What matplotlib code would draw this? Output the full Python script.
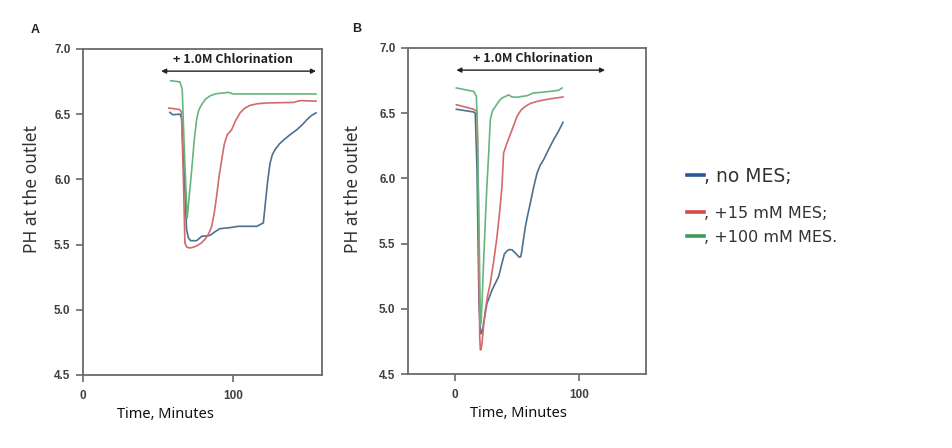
import matplotlib
matplotlib.use("Agg")
import matplotlib.pyplot as plt
from matplotlib.lines import Line2D

# ---------------- Data ----------------
# Panel A
a_blue_x = [57.8, 59.6, 64.5, 65.6, 67.5, 68.9, 70.2, 71.6, 75.6, 78.9, 84.5, 88.0, 91.1, 97.8, 103.3, 115.6, 120.0,
            121.8, 123.0, 124.5, 126.0, 127.8, 130.5, 133.3, 137.5, 142.2, 146.0, 149.0, 152.0, 155.0]
a_blue_y = [6.514, 6.496, 6.50, 6.47, 6.00, 5.614, 5.55, 5.53, 5.53, 5.563, 5.57, 5.60, 5.622, 5.63, 5.64, 5.64, 5.666,
            5.87, 6.00, 6.126, 6.19, 6.228, 6.27, 6.30, 6.34, 6.38, 6.42, 6.458, 6.49, 6.51]

a_red_x = [57.1, 64.5, 65.5, 66.8, 67.8, 69.0, 71.1, 73.5, 75.6, 78.5, 81.1, 83.5, 85.6, 87.3, 88.9, 90.5, 92.3, 94.0,
           96.0, 98.9, 101.5, 104.5, 107.5, 111.0, 116.0, 122.3, 140.0, 144.5, 155.0]
a_red_y = [6.547, 6.535, 6.515, 6.00, 5.512, 5.48, 5.474, 5.48, 5.49, 5.51, 5.54, 5.58, 5.64, 5.74, 5.87, 6.02, 6.15, 6.27,
           6.343, 6.38, 6.45, 6.51, 6.545, 6.567, 6.58, 6.586, 6.59, 6.604, 6.60]

a_green_x = [58.3, 64.5, 66.0, 67.5, 69.3, 70.5, 72.3, 74.0, 75.6, 77.0, 78.9, 81.5, 84.5, 88.0, 91.1, 96.7, 100.0, 155.0]
a_green_y = [6.757, 6.747, 6.69, 6.20, 5.70, 5.85, 6.07, 6.30, 6.46, 6.53, 6.573, 6.615, 6.64, 6.655, 6.66, 6.667, 6.655, 6.655]

# Panel B
b_blue_x = [1.4, 15.3, 16.6, 18.0, 19.6, 20.5, 21.2, 22.2, 23.3, 26.0, 30.1, 35.4, 38.1, 40.0, 42.1, 44.0, 46.2, 48.9,
            52.0, 53.2, 54.2, 55.5, 56.9, 58.8, 60.9, 63.5, 66.3, 68.8, 71.6, 75.5, 79.6, 83.5, 87.2]
b_blue_y = [6.53, 6.509, 6.50, 6.066, 5.04, 4.86, 4.81, 4.83, 4.89, 5.04, 5.145, 5.247, 5.35, 5.42, 5.444, 5.455, 5.452, 5.427,
            5.396, 5.40, 5.452, 5.54, 5.63, 5.72, 5.81, 5.93, 6.04, 6.10, 6.143, 6.22, 6.296, 6.36, 6.43]

b_red_x = [1.4, 15.3, 18.0, 19.0, 19.6, 20.2, 20.7, 21.3, 22.0, 23.2, 24.7, 26.5, 28.7, 31.5, 34.1, 36.3, 38.1, 39.4,
           42.1, 46.2, 50.2, 53.5, 56.9, 61.0, 66.3, 71.0, 77.0, 87.2]
b_red_y = [6.565, 6.53, 6.513, 5.90, 5.30, 4.78, 4.685, 4.69, 4.735, 4.86, 4.99, 5.10, 5.196, 5.37, 5.554, 5.75, 5.938, 6.194,
           6.27, 6.373, 6.475, 6.525, 6.552, 6.575, 6.59, 6.60, 6.61, 6.624]

b_green_x = [1.4, 15.3, 17.5, 18.5, 19.3, 20.1, 20.7, 21.3, 22.0, 23.3, 24.7, 26.0, 27.4, 28.7, 30.5, 32.7, 35.5, 38.1,
             43.4, 46.2, 50.0, 58.2, 63.6, 70.0, 77.0, 83.7, 86.4]
b_green_y = [6.693, 6.667, 6.63, 6.32, 5.80, 5.30, 4.88, 4.90, 5.04, 5.36, 5.68, 5.95, 6.19, 6.45, 6.52, 6.55, 6.59, 6.616,
             6.64, 6.624, 6.622, 6.634, 6.655, 6.66, 6.667, 6.675, 6.693]

yticks = [4.5, 5.0, 5.5, 6.0, 6.5, 7.0]
ytick_labels = ["4.5", "5.0", "5.5", "6.0", "6.5", "7.0"]
xticks = [0, 100]
xtick_labels = ["0", "100"]

legend_labels = [", no MES;", ", +15 mM MES;", ", +100 mM MES."]

# ---------------- Styling ----------------
C_BLUE = "#4d7090"
C_RED = "#d36a6a"
C_GREEN = "#66b57e"
LEG_COLORS = ["#2a55a0", "#d84848", "#3f9a58"]
SPINE = "#6a6a6a"

fig = plt.figure(figsize=(9.52, 4.48), dpi=100)

def style_axis(ax, xlim, xlab_x, ylab_x, ylab_y):
    ax.set_xlim(*xlim)
    ax.set_ylim(4.5, 7.0)
    ax.set_yticks(yticks)
    ax.set_yticklabels(ytick_labels, fontsize=8.5, fontweight="bold",
                       color="#404040", family="Liberation Sans")
    ax.set_xticks(xticks)
    ax.set_xticklabels(xtick_labels, fontsize=8.5, fontweight="bold",
                       color="#404040", family="Liberation Sans")
    for s in ax.spines.values():
        s.set_color(SPINE)
        s.set_linewidth(1.3)
    ax.tick_params(direction="out", length=5, width=1.2, color=SPINE, pad=4)
    ax.tick_params(axis="x", pad=6)
    ax.set_xlabel("Time, Minutes", fontsize=10.5, family="Noto Sans",
                  color="#111111")
    ax.set_ylabel("PH at the outlet", fontsize=12.5, family="Noto Sans",
                  color="#333333")
    ax.xaxis.set_label_coords(xlab_x, -0.097)
    ax.yaxis.set_label_coords(ylab_x, ylab_y)

def chlor(ax, x0, x1, xt):
    ax.annotate("", xy=(x0, 6.83), xytext=(x1, 6.83),
                arrowprops=dict(arrowstyle="<|-|>", color="#222222", lw=1.0,
                                mutation_scale=7, shrinkA=0, shrinkB=0))
    ax.text(xt, 6.87, "+ 1.0M Chlorination", ha="center", va="bottom",
            fontsize=9, fontweight="bold", family="Noto Sans CJK SC", color="#222222")

lw = 1.2
axA = fig.add_axes([0.0872, 0.163, 0.251, 0.7277])
axA.plot(a_blue_x, a_blue_y, color=C_BLUE, lw=lw)
axA.plot(a_red_x, a_red_y, color=C_RED, lw=lw)
axA.plot(a_green_x, a_green_y, color=C_GREEN, lw=lw)
style_axis(axA, (0, 159), 0.347, -0.175, 0.57)
chlor(axA, 52, 155, 100)

axB = fig.add_axes([0.4286, 0.165, 0.25, 0.728])
axB.plot(b_blue_x, b_blue_y, color=C_BLUE, lw=lw)
axB.plot(b_red_x, b_red_y, color=C_RED, lw=lw)
axB.plot(b_green_x, b_green_y, color=C_GREEN, lw=lw)
style_axis(axB, (-37.5, 154), 0.464, -0.193, 0.567)
chlor(axB, 1.4, 121, 63)

fig.text(35 / 952, 1 - 30 / 448, "A", fontsize=9, fontweight="bold",
         family="Liberation Sans", ha="center", va="center", color="#222222")
fig.text(357 / 952, 1 - 29 / 448, "B", fontsize=9, fontweight="bold",
         family="Liberation Sans", ha="center", va="center", color="#222222")

# Legend (manual, as in the reference)
leg_y = [175, 212, 236]
leg_fs = [13.5, 11.5, 11.5]
for y, lab, col, fs in zip(leg_y, legend_labels, LEG_COLORS, leg_fs):
    yf = 1 - y / 448
    fig.add_artist(Line2D([687 / 952, 704 / 952], [yf, yf], color=col, lw=2.6,
                          transform=fig.transFigure))
    fig.text(704 / 952, yf - 1.5 / 448, lab, fontsize=fs, family="DejaVu Sans",
             color="#333333", ha="left", va="center")

fig.savefig("out.png", dpi=100)
